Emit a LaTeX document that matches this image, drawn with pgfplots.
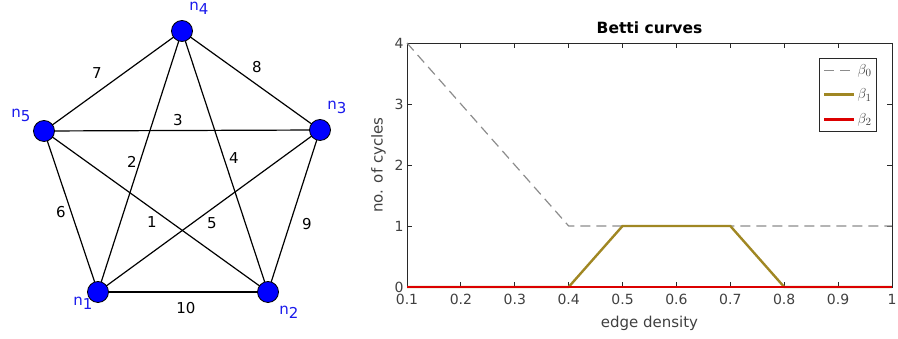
\documentclass[border=0pt]{standalone}
\usepackage{pgfplots}
\pgfplotsset{compat=1.18}
\usepackage{fontspec}
\setmainfont{DejaVu Sans}
\definecolor{nodeblue}{RGB}{0,0,255}
\definecolor{labelblue}{RGB}{25,25,235}
\definecolor{betagray}{RGB}{140,140,140}
\definecolor{betaolive}{RGB}{160,135,35}
\definecolor{betared}{RGB}{220,0,0}
\definecolor{axgray}{RGB}{40,40,40}
\definecolor{txtgray}{RGB}{64,64,64}
\newcommand\nn[1]{n\raisebox{-0.5ex}{#1}}
\tikzset{edge/.style={black, line width=1.2pt, mark=none}}

\begin{document}
\begin{tikzpicture}
%% left panel: the weighted complete graph, in pixel coords (y flipped)
\begin{axis}[
    at={(0pt,0pt)}, anchor=south west, scale only axis,
    width=360pt, height=339pt,
    xmin=0, xmax=360, ymin=-339, ymax=0,
    hide axis, clip=false,
]
\addplot[edge] coordinates {(98,-292)(268,-292)}; % 10
\addplot[edge] coordinates {(98,-292)(320,-130)}; % 5
\addplot[edge] coordinates {(98,-292)(182,-31)};  % 2
\addplot[edge] coordinates {(98,-292)(44,-131)};  % 6
\addplot[edge] coordinates {(268,-292)(320,-130)}; % 9
\addplot[edge] coordinates {(268,-292)(182,-31)};  % 4
\addplot[edge] coordinates {(268,-292)(44,-131)};  % 1
\addplot[edge] coordinates {(320,-130)(182,-31)};  % 8
\addplot[edge] coordinates {(320,-130)(44,-131)};  % 3
\addplot[edge] coordinates {(182,-31)(44,-131)};   % 7
%% vertices
\addplot[only marks, mark=*, mark size=10.5pt,
    mark options={fill=nodeblue, draw=black, line width=0.8pt}]
  coordinates {(98,-292)(268,-292)(320,-130)(182,-31)(44,-131)};
%% edge weights
\addplot[draw=none, mark=none, nodes near coords, point meta=explicit symbolic,
    nodes near coords style={anchor=center, text=black, font=\fontsize{15}{15}\selectfont}]
  coordinates {
    (97,-73)[7] (257,-67)[8] (178,-120)[3] (132,-162)[2] (234,-158)[4]
    (61,-212)[6] (152,-222)[1] (212,-223)[5] (307,-224)[9] (186,-308)[10]
  };
%% vertex names
\addplot[draw=none, mark=none, nodes near coords, point meta=explicit symbolic,
    nodes near coords style={anchor=center, text=labelblue, font=\fontsize{15}{15}\selectfont}]
  coordinates {
    (83,-303)[\nn{1}] (289,-312)[\nn{2}] (337,-107)[\nn{3}]
    (199,-8)[\nn{4}] (21,-115)[\nn{5}]
  };
\end{axis}

%% right panel: Betti curves
\begin{axis}[
    at={(407pt,52pt)}, anchor=south west, scale only axis,
    width=485pt, height=244pt,
    xmin=0.1, xmax=1, ymin=0, ymax=4,
    xtick={0.1,0.2,0.3,0.4,0.5,0.6,0.7,0.8,0.9,1},
    xticklabels={0.1,0.2,0.3,0.4,0.5,0.6,0.7,0.8,0.9,1},
    ytick={0,1,2,3,4},
    /pgf/number format/assume math mode=true,
    tick align=inside, major tick length=5pt,
    axis line style={axgray, line width=0.8pt},
    every tick/.style={axgray, line width=0.8pt},
    tick label style={font=\fontsize{14}{14}\selectfont, text=txtgray},
    xticklabel style={yshift=-4pt},
    label style={font=\fontsize{15}{15}\selectfont, text=txtgray},
    xlabel={edge density}, ylabel={no. of cycles},
    xlabel style={yshift=-4pt},
    ylabel style={yshift=2pt},
    title={Betti curves},
    title style={font=\bfseries\fontsize{15.5}{15.5}\selectfont, at={(0.5,1)}, anchor=south, yshift=0pt},
    legend style={at={(1,1)}, anchor=north east, xshift=-15pt, yshift=-15pt,
        draw=axgray, line width=0.8pt, font=\fontsize{15}{15}\selectfont, text=txtgray,
        inner xsep=3pt, inner ysep=4pt, row sep=9pt},
    legend cell align=left,
    legend image code/.code={\draw[#1] (0pt,0pt) -- (30pt,0pt);},
    clip=false,
]
\addplot[betagray, line width=1.2pt, dash pattern=on 10pt off 6pt]
  coordinates {(0.1,4)(0.4,1)(1,1)};
\addlegendentry{$\beta_0$}
\addplot[betaolive, line width=2.4pt]
  coordinates {(0.1,0)(0.4,0)(0.5,1)(0.7,1)(0.8,0)(1,0)};
\addlegendentry{$\beta_1$}
\addplot[betared, line width=2.8pt]
  coordinates {(0.1,0)(1,0)};
\addlegendentry{$\beta_2$}
\end{axis}
\pgfresetboundingbox
\useasboundingbox (0pt,0pt) rectangle (898pt,339pt);
\end{tikzpicture}
\end{document}
